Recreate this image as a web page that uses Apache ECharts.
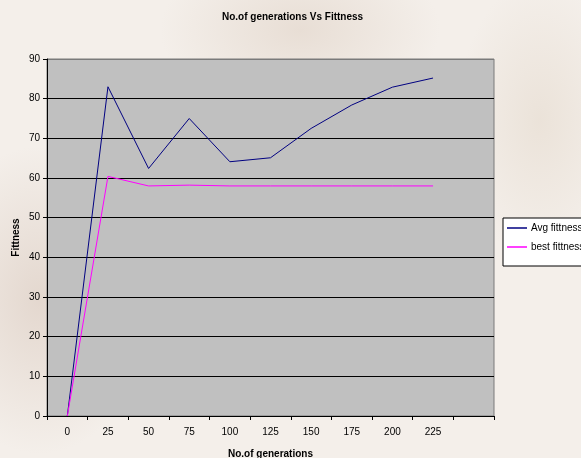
<!DOCTYPE html>
<html>
<head>
<meta charset="utf-8">
<script src="https://cdn.jsdelivr.net/npm/echarts@6/dist/echarts.min.js"></script>
<style>
  html, body { margin: 0; padding: 0; }
  body {
    width: 581px; height: 458px; overflow: hidden;
    background:
      radial-gradient(ellipse 160px 220px at 40px 300px, rgba(214,196,184,0.55), rgba(214,196,184,0) 70%),
      radial-gradient(ellipse 200px 120px at 300px 30px, rgba(220,205,192,0.5), rgba(220,205,192,0) 70%),
      radial-gradient(ellipse 120px 200px at 540px 120px, rgba(226,214,200,0.5), rgba(226,214,200,0) 70%),
      #f4efea;
  }
  #chart { width: 581px; height: 458px; }
</style>
</head>
<body>
<div id="chart"></div>
<script>
// Generation checkpoints (last slot left blank as an empty category)
const generations = ['0', '25', '50', '75', '100', '125', '150', '175', '200', '225', ''];
// Average fitness of the population at each checkpoint
const avgFitness = [0, 83, 62.4, 75, 64.1, 65.1, 72.5, 78.4, 82.9, 85.2];
// Best fitness at each checkpoint
const bestFitness = [0, 60.4, 58, 58.2, 58, 58, 58, 58, 58, 58];
// Value-axis range
const yMin = 0, yMax = 90, yStep = 10;

const font = "'Liberation Sans', Arial, sans-serif";
// Split lines: black, except the top one which is the grey plot border
const splitColors = [];
for (let v = yMin; v <= yMax; v += yStep) splitColors.push(v === yMax ? '#7a7a7a' : '#000000');

const chart = echarts.init(document.getElementById('chart'), null, { renderer: 'canvas' });
chart.setOption({
  backgroundColor: 'transparent',
  animation: false,
  textStyle: { fontFamily: font },
  title: {
    text: 'No.of generations Vs Fittness',
    left: 222, top: 12,
    padding: [0, 0, 0, 0],
    textStyle: { fontFamily: font, fontSize: 10, fontWeight: 'bold', color: '#000' }
  },
  grid: {
    left: 47, right: 87, top: 59, bottom: 42,
    outerBoundsMode: 'none',
    containLabel: false,
    show: true, backgroundColor: '#c0c0c0', borderColor: '#7a7a7a', borderWidth: 1
  },
  legend: {
    left: 503, top: 218,
    orient: 'vertical',
    backgroundColor: '#ffffff',
    borderColor: '#000', borderWidth: 1, borderRadius: 0,
    padding: [3, 10, 12, 4],
    icon: 'rect',
    itemWidth: 20, itemHeight: 1.5, itemGap: 5,
    textStyle: { fontFamily: font, fontSize: 10, lineHeight: 14, color: '#000', padding: [0, 0, 0, -1] },
    data: ['Avg fittness', 'best fittness']
  },
  xAxis: {
    type: 'category',
    data: generations,
    boundaryGap: true,
    name: 'No.of generations',
    nameLocation: 'middle',
    nameGap: 33,
    nameTextStyle: { fontFamily: font, fontSize: 10, fontWeight: 'bold', color: '#000' },
    axisLine: { lineStyle: { color: '#000', width: 1 } },
    axisTick: { show: true, inside: false, length: 4, lineStyle: { color: '#000' } },
    axisLabel: { fontFamily: font, fontSize: 10, color: '#000', margin: 11, interval: 0 },
    splitLine: { show: false }
  },
  yAxis: {
    type: 'value',
    min: yMin, max: yMax, interval: yStep,
    name: 'Fittness',
    nameLocation: 'middle',
    nameGap: 26,
    nameRotate: 90,
    nameMoveOverlap: false,
    nameTextStyle: { fontFamily: font, fontSize: 10, fontWeight: 'bold', color: '#000' },
    axisLine: { show: true, lineStyle: { color: '#000', width: 1 } },
    axisTick: { show: true, inside: false, length: 4, lineStyle: { color: '#000' } },
    axisLabel: { fontFamily: font, fontSize: 10, color: '#000', margin: 7 },
    splitLine: { show: true, lineStyle: { color: splitColors, width: 1 } }
  },
  series: [
    {
      name: 'Avg fittness', type: 'line', data: avgFitness,
      symbol: 'none', showSymbol: false,
      lineStyle: { color: '#000080', width: 1 }, itemStyle: { color: '#000080' }
    },
    {
      name: 'best fittness', type: 'line', data: bestFitness,
      symbol: 'none', showSymbol: false,
      lineStyle: { color: '#ff00ff', width: 1 }, itemStyle: { color: '#ff00ff' }
    }
  ]
});
</script>
</body>
</html>
